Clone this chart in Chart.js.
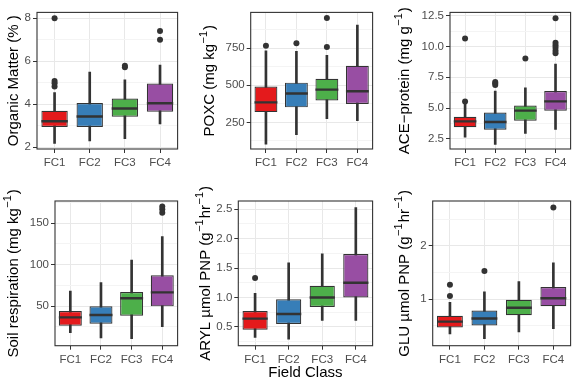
<!DOCTYPE html>
<html>
<head>
<meta charset="utf-8">
<script src="https://cdn.jsdelivr.net/npm/chart.js@4.4.1/dist/chart.umd.min.js"></script>
<style>
  body { margin: 0; background: #fff; }
  #wrap { position: relative; width: 583px; height: 384px; overflow: hidden; }
  canvas { position: absolute; }
</style>
</head>
<body>
<div id="wrap">
  <canvas id="c1" width="190" height="180" style="left:0px;top:0px"></canvas>
  <canvas id="c2" width="195" height="180" style="left:190px;top:0px"></canvas>
  <canvas id="c3" width="198" height="180" style="left:385px;top:0px"></canvas>
  <canvas id="c4" width="190" height="204" style="left:0px;top:180px"></canvas>
  <canvas id="c5" width="195" height="204" style="left:190px;top:180px"></canvas>
  <canvas id="c6" width="198" height="204" style="left:385px;top:180px"></canvas>
</div>
<script>
const categories = ["FC1", "FC2", "FC3", "FC4"];
const fills = ["#E41A1C", "#377EB8", "#4DAF4A", "#984EA3"];

// Organic matter (%)
const omLow = [2.18, 2.29, 2.40, 3.09];
const omQ1 = [2.94, 2.94, 3.42, 3.65];
const omMed = [3.21, 3.43, 3.80, 4.05];
const omQ3 = [3.70, 4.06, 4.27, 4.96];
const omHigh = [4.54, 5.50, 5.13, 5.82];
const omOut = [[4.83, 4.98, 5.08, 8.0], [], [5.72, 5.79], [7.0, 7.41]];
const omTicks = [2, 4, 6, 8];
const omTickLabels = ["2", "4", "6", "8"];
const omRange = [1.92, 8.27];

// POXC
const poxLow = [102, 166, 274, 261];
const poxQ1 = [319, 351, 398, 374];
const poxMed = [385, 445, 471, 460];
const poxQ3 = [492, 518, 544, 632];
const poxHigh = [733, 729, 703, 907];
const poxOut = [[767], [784], [759, 954], []];
const poxTicks = [250, 500, 750];
const poxTickLabels = ["250", "500", "750"];
const poxRange = [70, 992];

// ACE-protein
const aceLow = [2.63, 2.06, 2.94, 3.27];
const aceQ1 = [3.45, 3.25, 3.97, 4.79];
const aceMed = [3.92, 3.87, 4.79, 5.54];
const aceQ3 = [4.30, 4.64, 5.21, 6.39];
const aceHigh = [5.33, 6.37, 6.65, 8.56];
const aceOut = [[5.54, 10.64], [6.88, 7.01, 7.11], [9.02], [9.45, 9.65, 9.9, 10.1, 10.3, 12.29]];
const aceTicks = [2.5, 5, 7.5, 10, 12.5];
const aceTickLabels = ["2.5", "5.0", "7.5", "10.0", "12.5"];
const aceRange = [1.68, 12.76];

// Soil respiration
const resLow = [17.7, 11.3, 10.5, 25.0];
const resQ1 = [26.2, 28.6, 38.3, 49.6];
const resMed = [36.3, 39.1, 59.3, 66.5];
const resQ3 = [44.0, 49.6, 66.9, 87.1];
const resHigh = [68.1, 78.2, 105.6, 133.9];
const resOut = [[], [], [], [162.9, 166.9, 170.2]];
const resTicks = [50, 100, 150];
const resTickLabels = ["50", "100", "150"];
const resRange = [2, 177];

// ARYL
const arylLow = [0.32, 0.29, 0.61, 0.61];
const arylQ1 = [0.45, 0.55, 0.84, 1.0];
const arylMed = [0.64, 0.72, 1.0, 1.25];
const arylQ3 = [0.77, 0.97, 1.20, 1.74];
const arylHigh = [1.07, 1.59, 1.74, 2.53];
const arylOut = [[1.33], [], [], []];
const arylTicks = [0.5, 1, 1.5, 2, 2.5];
const arylTickLabels = ["0.5", "1.0", "1.5", "2.0", "2.5"];
const arylRange = [0.18, 2.64];

// GLU
const gluLow = [0.35, 0.26, 0.39, 0.45];
const gluQ1 = [0.47, 0.51, 0.70, 0.87];
const gluMed = [0.58, 0.64, 0.84, 1.02];
const gluQ3 = [0.69, 0.79, 0.99, 1.23];
const gluHigh = [0.94, 1.14, 1.33, 1.68];
const gluOut = [[1.06, 1.27], [1.53], [], [2.72]];
const gluTicks = [1, 2];
const gluTickLabels = ["1", "2"];
const gluRange = [0.13, 2.84];

const fontFamily = "'Liberation Sans', Arial, 'DejaVu Sans', sans-serif";

// ^{...} marks a superscript part of the y title
const panels = [
  { id: "c1", left: 0, top: 0, w: 190, h: 180, box: [37, 6, 182, 149], titleX: 14,
    title: "Organic Matter (% )", low: omLow, q1: omQ1, med: omMed, q3: omQ3, high: omHigh,
    out: omOut, ticks: omTicks, labels: omTickLabels, range: omRange },
  { id: "c2", left: 190, top: 0, w: 195, h: 180, box: [250.7, 6, 376.7, 149], titleX: 210,
    title: "POXC (mg kg^{\u22121})", low: poxLow, q1: poxQ1, med: poxMed, q3: poxQ3, high: poxHigh,
    out: poxOut, ticks: poxTicks, labels: poxTickLabels, range: poxRange },
  { id: "c3", left: 385, top: 0, w: 198, h: 180, box: [450, 6, 576.7, 149], titleX: 405,
    title: "ACE\u2212protein (mg g^{\u22121})", low: aceLow, q1: aceQ1, med: aceMed, q3: aceQ3, high: aceHigh,
    out: aceOut, ticks: aceTicks, labels: aceTickLabels, range: aceRange },
  { id: "c4", left: 0, top: 180, w: 190, h: 204, box: [55, 201, 182.7, 345.7], titleX: 14,
    title: "Soil respiration (mg kg^{\u22121})", low: resLow, q1: resQ1, med: resMed, q3: resQ3, high: resHigh,
    out: resOut, ticks: resTicks, labels: resTickLabels, range: resRange },
  { id: "c5", left: 190, top: 180, w: 195, h: 204, box: [238.3, 201, 380, 345.7], titleX: 206,
    title: "ARYL \u00B5mol PNP (g^{\u22121}hr^{\u22121})", low: arylLow, q1: arylQ1, med: arylMed, q3: arylQ3, high: arylHigh,
    out: arylOut, ticks: arylTicks, labels: arylTickLabels, range: arylRange, xTitle: "Field Class" },
  { id: "c6", left: 385, top: 180, w: 198, h: 204, box: [432.7, 201, 575, 345.7], titleX: 405,
    title: "GLU \u00B5mol PNP (g^{\u22121}hr^{\u22121})", low: gluLow, q1: gluQ1, med: gluMed, q3: gluQ3, high: gluHigh,
    out: gluOut, ticks: gluTicks, labels: gluTickLabels, range: gluRange },
];

function splitTitle(text) {
  const parts = [];
  const re = /\^\{([^}]*)\}/g;
  let last = 0, m;
  while ((m = re.exec(text))) {
    if (m.index > last) parts.push({ t: text.slice(last, m.index), sup: false });
    parts.push({ t: m[1], sup: true });
    last = re.lastIndex;
  }
  if (last < text.length) parts.push({ t: text.slice(last), sup: false });
  return parts;
}

// frame around the panel + rotated y title (axis title would get squeezed to the panel height)
const panelDecor = {
  id: "panelDecor",
  afterDraw(chart, args, opts) {
    const { ctx, chartArea: a } = chart;
    ctx.save();
    ctx.strokeStyle = "#333";
    ctx.lineWidth = 1.1;
    ctx.strokeRect(a.left, a.top, a.right - a.left, a.bottom - a.top);

    const base = "15px " + fontFamily;
    const small = "11px " + fontFamily;
    const parts = splitTitle(opts.text);
    let total = 0;
    parts.forEach((p) => {
      ctx.font = p.sup ? small : base;
      p.w = ctx.measureText(p.t).width + (p.sup ? 1.5 : 0);
      total += p.w;
    });
    ctx.translate(opts.x, (a.top + a.bottom) / 2);
    ctx.rotate(-Math.PI / 2);
    ctx.fillStyle = "#000";
    ctx.textAlign = "left";
    ctx.textBaseline = "middle";
    let x = -total / 2;
    parts.forEach((p) => {
      ctx.font = p.sup ? small : base;
      ctx.fillText(p.t, x + (p.sup ? 0.5 : 0), p.sup ? -6 : 0);
      x += p.w;
    });
    ctx.restore();
  },
};

function minorTicks(majors, range) {
  const step = majors[1] - majors[0];
  const res = [majors[0] - step / 2, ...majors.map((v) => v + step / 2)];
  return res.filter((v) => v > range[0] && v < range[1]);
}

function isMajor(p, v) {
  return p.ticks.some((t) => Math.abs(t - v) < 1e-9);
}

panels.forEach((p) => {
  const [bl, bt, br, bb] = p.box;
  const xh = p.xTitle ? (p.top + p.h - 2) - bb : 20;
  const allTicks = [...p.ticks, ...minorTicks(p.ticks, p.range)].sort((a, b) => a - b);
  const outPoints = [];
  p.out.forEach((vals, i) => vals.forEach((v) => outPoints.push({ x: categories[i], y: v })));
  const tickFont = { family: fontFamily, size: 11.5 };

  new Chart(document.getElementById(p.id), {
    type: "bar",
    data: {
      labels: categories,
      datasets: [
        {
          type: "line",
          data: outPoints,
          showLine: false,
          pointRadius: 3,
          pointBackgroundColor: "#333",
          pointBorderWidth: 0,
          order: 0,
        },
        {
          type: "line",
          data: p.med,
          showLine: false,
          pointStyle: "line",
          pointRadius: (ctx) => {
            const a = ctx.chart.chartArea;
            return a ? ((a.right - a.left) / categories.length) * 0.75 / 2 : 10;
          },
          pointBorderColor: "#333",
          pointBorderWidth: 2.4,
          order: 1,
        },
        {
          data: p.q1.map((v, i) => [v, p.q3[i]]),
          backgroundColor: fills,
          borderColor: "#333",
          borderWidth: 1.2,
          borderSkipped: false,
          barPercentage: 0.75,
          categoryPercentage: 1,
          grouped: false,
          order: 2,
        },
        {
          data: p.low.map((v, i) => [v, p.high[i]]),
          backgroundColor: "#333",
          borderWidth: 0,
          barThickness: 2,
          grouped: false,
          order: 3,
        },
      ],
    },
    options: {
      responsive: false,
      animation: false,
      events: [],
      layout: {
        padding: {
          left: 0,
          top: bt - p.top,
          right: p.left + p.w - br,
          bottom: p.top + p.h - bb - xh,
        },
      },
      plugins: {
        legend: { display: false },
        tooltip: { enabled: false },
        panelDecor: { text: p.title, x: p.titleX - p.left },
      },
      scales: {
        x: {
          type: "category",
          offset: true,
          grid: { offset: false, color: "#E8E8E8", tickColor: "#333", tickLength: 4 },
          border: { display: false },
          ticks: { color: "#4D4D4D", font: tickFont, padding: 3, maxRotation: 0 },
          title: p.xTitle
            ? { display: true, text: p.xTitle, color: "#000", font: { family: fontFamily, size: 15 }, padding: { top: 0, bottom: 0 } }
            : { display: false },
          afterFit: (s) => { s.height = xh; },
        },
        y: {
          type: "linear",
          min: p.range[0],
          max: p.range[1],
          grid: {
            color: (c) => (isMajor(p, c.tick.value) ? "#E8E8E8" : "#F4F4F4"),
            tickColor: (c) => (isMajor(p, c.tick.value) ? "#333" : "rgba(0,0,0,0)"),
            tickLength: 4,
          },
          border: { display: false },
          ticks: {
            autoSkip: false,
            color: "#4D4D4D",
            font: tickFont,
            padding: 2,
            callback: (v) => {
              const i = p.ticks.findIndex((t) => Math.abs(t - v) < 1e-9);
              return i >= 0 ? p.labels[i] : "";
            },
          },
          afterBuildTicks: (s) => { s.ticks = allTicks.map((v) => ({ value: v })); },
          afterFit: (s) => { s.width = bl - p.left; },
        },
      },
    },
    plugins: [panelDecor],
  });
});
</script>
</body>
</html>
